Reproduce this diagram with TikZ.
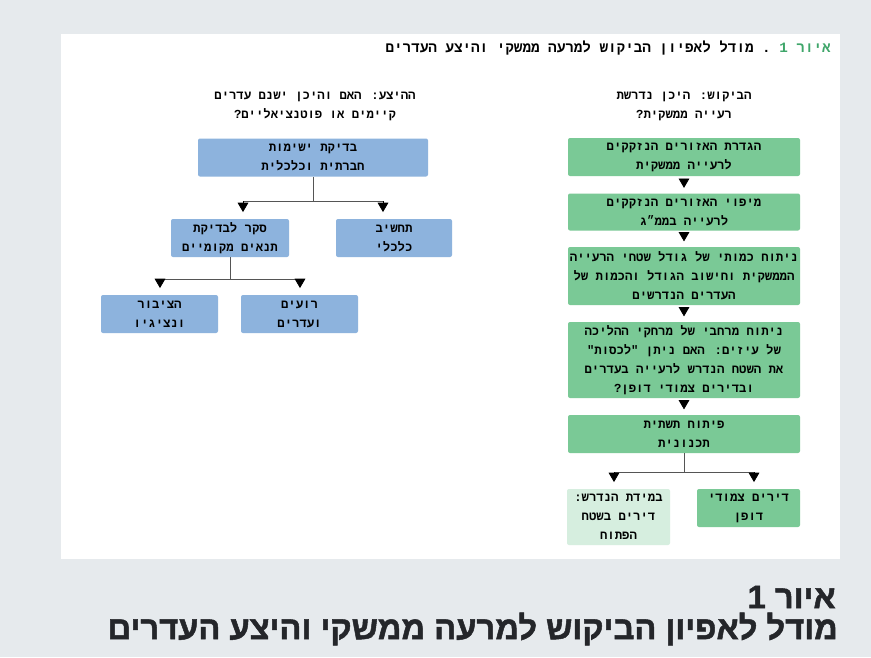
\documentclass[tikz,border=0pt]{standalone}
\usepackage{fontspec}
\usepackage{xcolor}
\usetikzlibrary{arrows.meta}
\TeXXeTstate=1
\newfontfamily\hebmono[Script=Hebrew]{Liberation Mono}
\newfontfamily\hebcap[Script=Hebrew,FakeBold=1.5]{Liberation Sans Bold}
\definecolor{pagebg}{HTML}{E6EAED}
\definecolor{boxgreen}{HTML}{7AC996}
\definecolor{boxlight}{HTML}{D6EEDF}
\definecolor{boxblue}{HTML}{8DB3DD}
\definecolor{titlegreen}{HTML}{3FA66A}
\definecolor{captext}{HTML}{24262A}
\definecolor{linegray}{HTML}{555555}
\newcommand{\heb}[1]{\beginR #1\endR}
\newcommand{\stepbox}[5]{\node[#1,minimum height=#4] (#2) at (#3) {#5};}

\tikzset{
  box/.style={inner sep=0pt, align=center, rounded corners=1.5pt,
    font=\hebmono\bfseries\fontsize{9.2}{14.25}\selectfont},
  wide/.style={box, minimum width=174pt},
  narrow/.style={box, minimum width=77.25pt},
  grnbox/.style={fill=boxgreen},
  lgtbox/.style={fill=boxlight},
  blubox/.style={fill=boxblue},
  head/.style={align=center, inner sep=0pt,
    font=\hebmono\bfseries\fontsize{9.2}{14.25}\selectfont},
  forkline/.style={draw=linegray, line width=0.7pt},
  arr/.style={-{Triangle[width=8pt,length=7pt]}, draw=black, line width=0.6pt,
    shorten <=2pt, shorten >=4pt},
  farr/.style={arr, shorten <=0pt, shorten >=5pt},
  captxt/.style={anchor=east, inner sep=0pt, text=captext,
    font=\hebcap\fontsize{24.5}{28}\selectfont},
}

\begin{document}
\begin{tikzpicture}[x=0.75pt,y=-0.75pt]
\fill[pagebg] (0,0) rectangle (871,657);
\useasboundingbox (0,0) rectangle (871,657);
\fill[white] (61,34) rectangle (840,559);

% title line
\node[anchor=east, inner sep=0pt, text=titlegreen, font=\hebmono\bfseries\fontsize{10.7}{13}\selectfont] (tnum) at (831,48) {\heb{איור 1}};
\node[anchor=east, inner sep=0pt, font=\hebmono\bfseries\fontsize{10.7}{13}\selectfont] (ttext) at ([xshift=-6pt]tnum.west) {\heb{.\ מודל לאפיון הביקוש למרעה ממשקי והיצע העדרים}};

% column heads
\node[head] (hsupply) at (315,106) {\heb{ההיצע: האם והיכן ישנם עדרים}\\\heb{קיימים או פוטנציאליים?}};
\node[head] (hdemand) at (684,106) {\heb{הביקוש: היכן נדרשת}\\\heb{רעייה ממשקית?}};

% demand side
\stepbox{wide,grnbox}{d1}{684,157}{28.5pt}{\heb{הגדרת האזורים הנזקקים}\\\heb{לרעייה ממשקית}}
\stepbox{wide,grnbox}{d2}{684,212}{27.75pt}{\heb{מיפוי האזורים הנזקקים}\\\heb{לרעייה בממ״ג}}
\stepbox{wide,grnbox}{d3}{684,276}{43.5pt}{\heb{ניתוח כמותי של גודל שטחי הרעייה}\\\heb{הממשקית וחישוב הגודל והכמות של}\\\heb{העדרים הנדרשים}}
\stepbox{wide,grnbox}{d4}{684,360}{57pt}{\heb{ניתוח מרחבי של מרחקי ההליכה}\\\heb{של עיזים: האם ניתן "לכסות"}\\\heb{את השטח הנדרש לרעייה בעדרים}\\\heb{ובדירים צמודי דופן?}}
\stepbox{wide,grnbox}{d5}{684,434}{28.5pt}{\heb{פיתוח תשתית}\\\heb{תכנונית}}
\stepbox{narrow,lgtbox}{d6}{618.5,517}{42pt}{\heb{במידת הנדרש:}\\\heb{דירים בשטח}\\\heb{הפתוח}}
\stepbox{narrow,grnbox}{d7}{748.5,508}{28.5pt}{\heb{דירים צמודי}\\\heb{דופן}}

\draw[arr] (d1) -- (d2);
\draw[arr] (d2) -- (d3);
\draw[arr] (d3) -- (d4);
\draw[arr] (d4) -- (d5);
\coordinate (jd) at (684,472);
\draw[forkline] (d5.south) -- (jd);
\draw[forkline] (jd) +(-70,0) -- +(70,0);
\draw[farr] ([xshift=-52.5pt]jd) -- ([xshift=-52.5pt]jd |- d6.north);
\draw[farr] ([xshift=52.5pt]jd) -- ([xshift=52.5pt]jd |- d7.north);

% supply side
\stepbox{box,blubox,minimum width=172.5pt}{s1}{313,157.5}{28.5pt}{\heb{בדיקת ישימות}\\\heb{חברתית וכלכלית}}
\stepbox{box,blubox,minimum width=88.5pt}{s2}{230,238}{28.5pt}{\heb{סקר לבדיקת}\\\heb{תנאים מקומיים}}
\stepbox{box,blubox,minimum width=87pt}{s3}{394,238}{28.5pt}{\heb{תחשיב}\\\heb{כלכלי}}
\stepbox{box,blubox,minimum width=87.75pt}{s4}{159.5,314}{28.5pt}{\heb{הציבור}\\\heb{ונציגיו}}
\stepbox{box,blubox,minimum width=87.75pt}{s5}{299.5,314}{28.5pt}{\heb{רועים}\\\heb{ועדרים}}

\coordinate (js1) at (313,201);
\draw[forkline] (s1.south) -- (js1);
\draw[forkline] (js1) +(-70,0) -- +(70,0);
\draw[farr] ([xshift=-52.5pt]js1) -- ([xshift=-52.5pt]js1 |- s2.north);
\draw[farr] ([xshift=52.5pt]js1) -- ([xshift=52.5pt]js1 |- s3.north);
\coordinate (js2) at (230,279);
\draw[forkline] (s2.south) -- (js2);
\draw[forkline] (js2) +(-70,0) -- +(70,0);
\draw[farr] ([xshift=-52.5pt]js2) -- ([xshift=-52.5pt]js2 |- s4.north);
\draw[farr] ([xshift=52.5pt]js2) -- ([xshift=52.5pt]js2 |- s5.north);

% caption
\node[captxt] (cap1) at (836,597) {\heb{איור 1}};
\node[captxt] (cap2) at (838,629) {\heb{מודל לאפיון הביקוש למרעה ממשקי והיצע העדרים}};
\end{tikzpicture}
\end{document}
